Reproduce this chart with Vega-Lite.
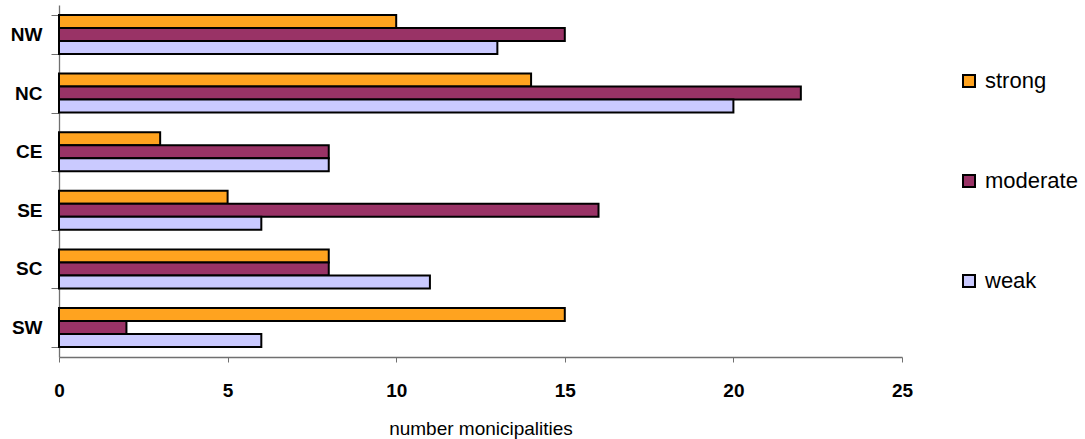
{
  "$schema": "https://vega.github.io/schema/vega-lite/v6.json",
  "width": 843,
  "height": 352,
  "autosize": {"type": "none"},
  "padding": {"left": 59, "top": 5, "right": 183, "bottom": 82},
  "background": "white",
  "config": {
    "view": {"stroke": null},
    "font": "Liberation Sans"
  },
  "data": {
    "values": [
      {"region": "NW", "level": "strong", "n": 10},
      {"region": "NW", "level": "moderate", "n": 15},
      {"region": "NW", "level": "weak", "n": 13},
      {"region": "NC", "level": "strong", "n": 14},
      {"region": "NC", "level": "moderate", "n": 22},
      {"region": "NC", "level": "weak", "n": 20},
      {"region": "CE", "level": "strong", "n": 3},
      {"region": "CE", "level": "moderate", "n": 8},
      {"region": "CE", "level": "weak", "n": 8},
      {"region": "SE", "level": "strong", "n": 5},
      {"region": "SE", "level": "moderate", "n": 16},
      {"region": "SE", "level": "weak", "n": 6},
      {"region": "SC", "level": "strong", "n": 8},
      {"region": "SC", "level": "moderate", "n": 8},
      {"region": "SC", "level": "weak", "n": 11},
      {"region": "SW", "level": "strong", "n": 15},
      {"region": "SW", "level": "moderate", "n": 2},
      {"region": "SW", "level": "weak", "n": 6}
    ]
  },
  "mark": {"type": "bar", "stroke": "black", "strokeWidth": 2},
  "encoding": {
    "y": {
      "field": "region",
      "type": "nominal",
      "sort": null,
      "scale": {"paddingInner": 0.335, "paddingOuter": 0.17},
      "axis": {
        "title": null,
        "tickBand": "extent",
        "tickSize": 8,
        "tickColor": "#707070",
        "domainColor": "#707070",
        "domainWidth": 1.3,
        "labelFont": "Liberation Sans",
        "labelFontSize": 19,
        "labelFontWeight": "bold",
        "labelColor": "black",
        "labelPadding": 9
      }
    },
    "yOffset": {
      "field": "level",
      "type": "nominal",
      "sort": ["strong", "moderate", "weak"],
      "scale": {"paddingInner": 0, "paddingOuter": 0}
    },
    "x": {
      "field": "n",
      "type": "quantitative",
      "scale": {"domain": [0, 25], "nice": false},
      "axis": {
        "title": "number monicipalities",
        "titleFont": "Liberation Sans",
        "titleFontSize": 19,
        "titleFontWeight": "normal",
        "titleColor": "black",
        "titlePadding": 19,
        "values": [0, 5, 10, 15, 20, 25],
        "grid": false,
        "labelFlush": false,
        "tickSize": 5,
        "tickColor": "#707070",
        "domainColor": "#707070",
        "domainWidth": 1.3,
        "labelFont": "Liberation Sans",
        "labelFontSize": 19,
        "labelFontWeight": "bold",
        "labelColor": "black",
        "labelPadding": 19
      }
    },
    "fill": {
      "field": "level",
      "type": "nominal",
      "sort": ["strong", "moderate", "weak"],
      "scale": {
        "domain": ["strong", "moderate", "weak"],
        "range": ["#FFA31F", "#993366", "#CACAFF"]
      },
      "legend": {
        "title": null,
        "orient": "none",
        "legendX": 899,
        "legendY": 65,
        "padding": 0,
        "symbolType": "square",
        "symbolSize": 144,
        "symbolStrokeColor": "black",
        "symbolStrokeWidth": 2,
        "labelFont": "Liberation Sans",
        "labelFontSize": 22,
        "labelColor": "black",
        "labelOffset": 5,
        "rowPadding": 78
      }
    }
  }
}
